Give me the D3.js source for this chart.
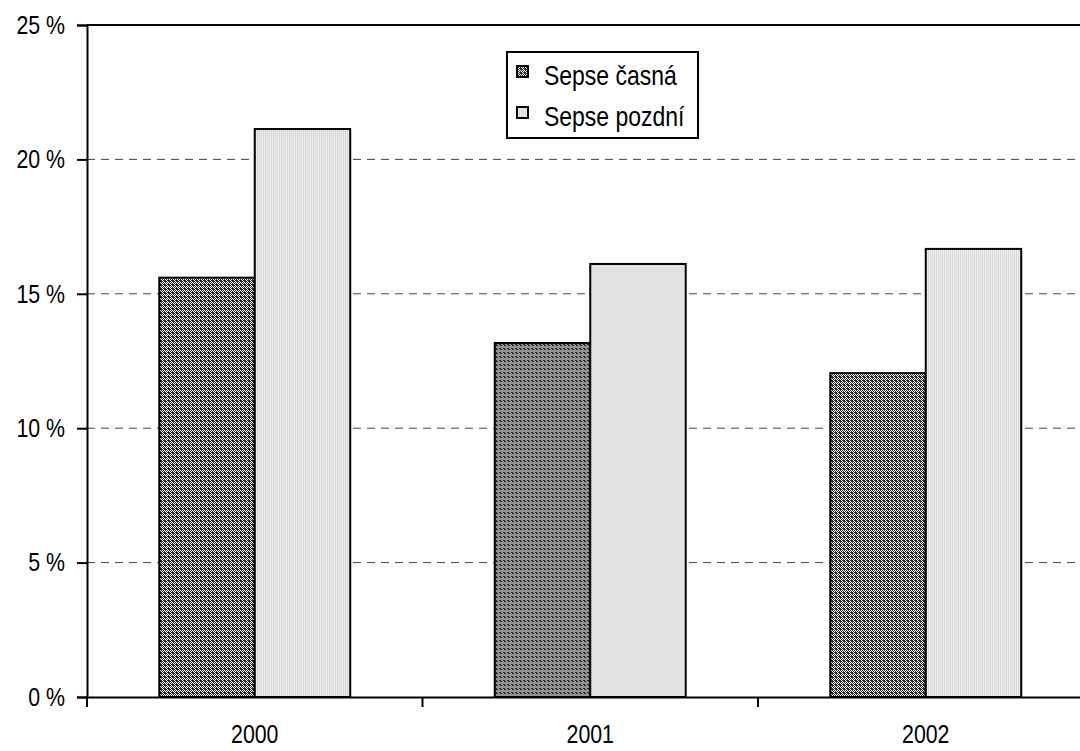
<!DOCTYPE html>
<html><head><meta charset="utf-8">
<script src="https://cdn.jsdelivr.net/npm/d3@7"></script>
<style>body{margin:0;background:#fff;}svg{display:block;}</style>
</head><body>
<script>
const years = ["2000", "2001", "2002"];
const seriesNames = ["Sepse časná", "Sepse pozdní"];
const early = [15.6, 13.17, 12.05];
const late = [21.13, 16.11, 16.67];
const yTicks = [0, 5, 10, 15, 20, 25];

// detect narrow font
function hasFont(name) {
  const c = document.createElement("canvas").getContext("2d");
  const s = "Sepse časná 2000 %";
  c.font = "30px monospace"; const a = c.measureText(s).width;
  c.font = `30px '${name}', monospace`; const b = c.measureText(s).width;
  return Math.abs(a - b) > 0.5;
}
const narrow = hasFont("Liberation Sans Narrow");
const FONT = narrow ? "'Liberation Sans Narrow', 'Arial Narrow', sans-serif" : "'Liberation Sans', Arial, sans-serif";
function condense(sel) {
  if (narrow) return;
  sel.each(function() {
    const L = this.getComputedTextLength();
    d3.select(this).attr("textLength", L * 0.82).attr("lengthAdjust", "spacingAndGlyphs");
  });
}

const W = 1080, H = 751;
const svg = d3.select("body").append("svg").attr("width", W).attr("height", H);
const defs = svg.append("defs");

const pd = defs.append("pattern").attr("id","pDark").attr("patternUnits","userSpaceOnUse").attr("width",4).attr("height",4);
pd.append("rect").attr("width",4).attr("height",4).attr("fill","#fff");
[[0,0],[1,1],[2,2],[3,3],[2,0],[3,1],[0,2],[1,3],[1,0],[2,1]].forEach(([x,y])=>{
  pd.append("rect").attr("x",x).attr("y",y).attr("width",1).attr("height",1).attr("fill","#2a2a2a");
});
const pl = defs.append("pattern").attr("id","pLight").attr("patternUnits","userSpaceOnUse").attr("width",2).attr("height",2);
pl.append("rect").attr("width",2).attr("height",2).attr("fill","#d6d6d6");
pl.append("rect").attr("x",1).attr("y",0).attr("width",1).attr("height",1).attr("fill","#f4f4f4");
pl.append("rect").attr("x",1).attr("y",1).attr("width",1).attr("height",1).attr("fill","#e8e8e8");
const fills = ["url(#pDark)", "url(#pLight)"];

const x0 = d3.scaleBand().domain(years).range([87, 1093.5]).padding(0);
const x1 = d3.scaleBand().domain(seriesNames).range([0, x0.bandwidth()]).paddingInner(0).paddingOuter(0.757);
const y = d3.scaleLinear().domain([0, 25]).range([697, 25]);

svg.append("g").selectAll("line").data(yTicks.filter(t => t > 0 && t < 25)).join("line")
  .attr("x1", 87).attr("x2", W).attr("y1", d => y(d)).attr("y2", d => y(d))
  .attr("stroke", "#444").attr("stroke-width", 1).attr("stroke-dasharray", "8,6");

const data = years.map((yr, i) => ({year: yr, vals: [early[i], late[i]]}));
const g = svg.append("g").selectAll("g").data(data).join("g")
  .attr("transform", d => `translate(${x0(d.year)},0)`);
g.selectAll("rect").data(d => d.vals.map((v, j) => ({v, j}))).join("rect")
  .attr("x", d => x1(seriesNames[d.j]))
  .attr("width", x1.bandwidth())
  .attr("y", d => y(d.v))
  .attr("height", d => y(0) - y(d.v))
  .attr("fill", d => fills[d.j])
  .attr("stroke", "#000").attr("stroke-width", 2);

svg.append("line").attr("x1", 87).attr("x2", W).attr("y1", y(25)).attr("y2", y(25))
  .attr("stroke", "#000").attr("stroke-width", 2);

const yAxis = d3.axisLeft(y).tickValues(yTicks).tickFormat(d => d + " %").tickSize(10).tickPadding(12);
const ya = svg.append("g").attr("transform", "translate(87,0)").call(yAxis);
ya.attr("font-family", FONT).attr("font-size", 26);
ya.select(".domain").attr("stroke", "#000").attr("stroke-width", 2);
ya.selectAll(".tick line").attr("stroke", "#000").attr("stroke-width", 2);
ya.selectAll("text").attr("fill", "#000").call(condense);

const xa = svg.append("g").attr("transform", `translate(0,${y(0)})`)
  .call(d3.axisBottom(x0).tickSize(0).tickPadding(28));
xa.attr("font-family", FONT).attr("font-size", 26);
xa.select(".domain").attr("stroke", "#000").attr("stroke-width", 2);
xa.selectAll("text").attr("fill", "#000").call(condense);
const sepX = d3.scaleLinear().domain([0, years.length]).range([87, 1093.5]);
svg.append("g").selectAll("line").data(d3.range(years.length + 1)).join("line")
  .attr("x1", d => sepX(d)).attr("x2", d => sepX(d))
  .attr("y1", y(0)).attr("y2", y(0) + 10)
  .attr("stroke", "#000").attr("stroke-width", 2);

const lg = svg.append("g").attr("transform", "translate(507,52)").attr("font-family", FONT).attr("font-size", 28);
lg.append("rect").attr("width", 191).attr("height", 86).attr("fill", "#fff").attr("stroke", "#000").attr("stroke-width", 2);
seriesNames.forEach((s, i) => {
  const yy = 14 + i * 41;
  lg.append("rect").attr("x", 10).attr("y", yy).attr("width", 11).attr("height", 11)
    .attr("fill", fills[i]).attr("stroke", "#000").attr("stroke-width", 2);
  lg.append("text").attr("x", 37).attr("y", yy + 19).attr("fill", "#000").text(s).call(condense);
});
</script>
</body></html>
